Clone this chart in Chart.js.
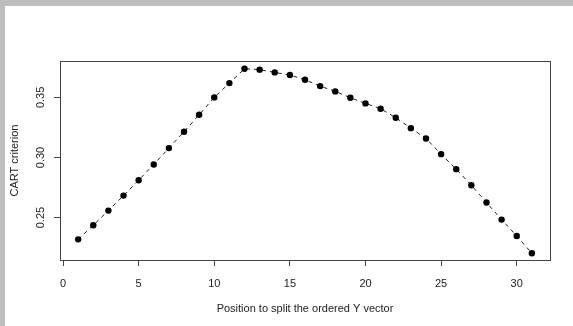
<!DOCTYPE html>
<html>
<head>
<meta charset="utf-8">
<script src="https://cdn.jsdelivr.net/npm/chart.js@4"></script>
<style>
  html, body { margin: 0; padding: 0; background: #bebebe; width: 573px; height: 326px; overflow: hidden; }
  #wrap { position: absolute; left: 5px; top: 6px; width: 568px; height: 320px; background: #fff; }
</style>
</head>
<body>
<div id="wrap"><canvas id="cartChart" width="568" height="320"></canvas></div>
<script>
const positions = [1, 2, 3, 4, 5, 6, 7, 8, 9, 10, 11, 12, 13, 14, 15, 16, 17, 18, 19, 20, 21, 22, 23, 24, 25, 26, 27, 28, 29, 30, 31];
const criterion = [0.2319, 0.2436, 0.2558, 0.2683, 0.2811, 0.2942, 0.3078, 0.3214, 0.3356, 0.3500,
                   0.3619, 0.3739, 0.3731, 0.3708, 0.3686, 0.3647, 0.3594, 0.3550, 0.3497, 0.3450,
                   0.3406, 0.3331, 0.3244, 0.3158, 0.3028, 0.2903, 0.2769, 0.2625, 0.2483, 0.2347, 0.2203];
const xTicks = [0, 5, 10, 15, 20, 25, 30];
const yTicks = [0.25, 0.30, 0.35];
const yTickLabels = ['0.25', '0.30', '0.35'];

const FONT = "'Liberation Sans', Arial, Helvetica, sans-serif";
const INK = '#222';

// box around plot region, like R's bty="o"
const boxPlugin = {
    id: 'box',
    beforeDatasetsDraw(chart) {
        const a = chart.chartArea;
        const ctx = chart.ctx;
        ctx.save();
        ctx.strokeStyle = '#444';
        ctx.lineWidth = 1;
        ctx.strokeRect(Math.round(a.left) + 0.5, Math.round(a.top) + 0.5,
                       Math.round(a.right - a.left), Math.round(a.bottom - a.top));
        ctx.restore();
    }
};

// y tick labels are rotated (R default las=0)
const yLabelPlugin = {
    id: 'yLabels',
    afterDraw(chart) {
        const scale = chart.scales.y;
        const ctx = chart.ctx;
        ctx.save();
        ctx.fillStyle = INK;
        ctx.font = '11px ' + FONT;
        ctx.textAlign = 'center';
        ctx.textBaseline = 'middle';
        yTicks.forEach((v, i) => {
            const y = scale.getPixelForValue(v);
            ctx.save();
            ctx.translate(36, y);
            ctx.rotate(-Math.PI / 2);
            ctx.fillText(yTickLabels[i], 0, 0);
            ctx.restore();
        });
        ctx.restore();
    }
};

new Chart(document.getElementById('cartChart'), {
    type: 'line',
    data: {
        datasets: [{
            data: positions.map((p, i) => ({ x: p, y: criterion[i] })),
            borderColor: '#222',
            borderWidth: 1,
            borderDash: [4, 4],
            pointRadius: 3.2,
            pointBackgroundColor: '#000',
            pointBorderColor: '#000',
            pointBorderWidth: 0,
            tension: 0
        }]
    },
    plugins: [boxPlugin, yLabelPlugin],
    options: {
        responsive: false,
        animation: false,
        layout: { padding: { top: 55, right: 23, left: 0, bottom: 0 } },
        plugins: { legend: { display: false }, tooltip: { enabled: false } },
        scales: {
            x: {
                type: 'linear',
                min: -0.2,
                max: 32.2,
                afterBuildTicks: s => { s.ticks = xTicks.map(v => ({ value: v })); },
                afterFit: s => { s.height = 66; },
                border: { display: false },
                grid: { drawOnChartArea: false, drawTicks: true, tickLength: 6, color: '#444' },
                ticks: { color: INK, font: { family: FONT, size: 11 }, padding: 11, maxRotation: 0 },
                title: { display: true, text: 'Position to split the ordered Y vector', color: INK,
                         font: { family: FONT, size: 11 }, padding: { top: 0, bottom: 10 } }
            },
            y: {
                type: 'linear',
                min: 0.2147,
                max: 0.3803,
                afterBuildTicks: s => { s.ticks = yTicks.map(v => ({ value: v })); },
                afterFit: s => { s.width = 55; },
                border: { display: false },
                grid: { drawOnChartArea: false, drawTicks: true, tickLength: 6, color: '#444' },
                ticks: { display: false },
                title: { display: true, text: 'CART criterion', color: INK,
                         font: { family: FONT, size: 11 }, padding: { top: 3, bottom: 0 } }
            }
        }
    }
});
</script>
</body>
</html>
